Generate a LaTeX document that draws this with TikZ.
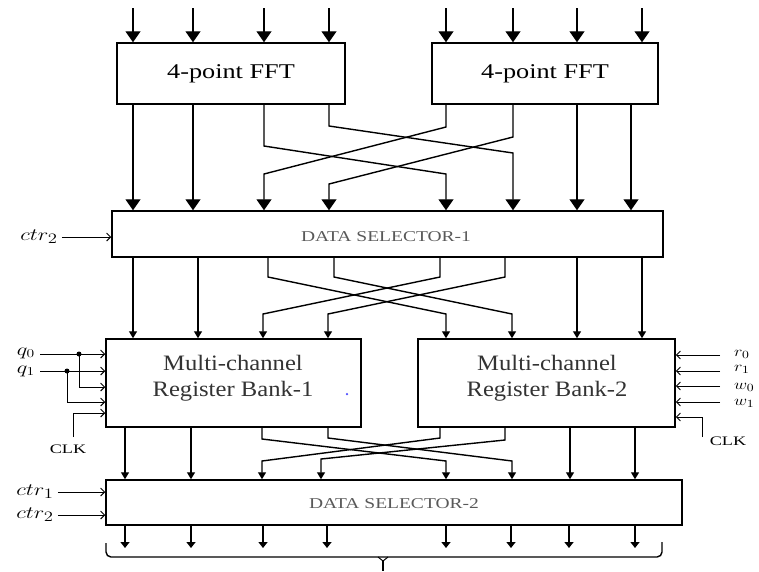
\documentclass[tikz,border=0pt]{standalone}
\usepackage{graphicx}
\usepackage{fontspec}
\setmainfont{Liberation Serif}
\usetikzlibrary{arrows.meta}
\newcommand{\sx}[2]{\scalebox{#1}[1]{#2}}
\begin{document}
\begin{tikzpicture}[x=1pt,y=-1pt,
  box/.style={draw, line width=1.5pt, inner sep=0pt},
  wire/.style={line width=1.4pt},
  bigarr/.style={wire, -{Triangle[width=15pt,length=11pt]}},
  midarr/.style={wire, -{Triangle[width=8pt,length=7pt]}},
  smallarr/.style={wire, -{Triangle[width=9pt,length=6pt]}},
  ctlarr/.style={line width=0.9pt, -{Straight Barb[length=4pt,width=8pt]}},
  jdot/.style={circle, fill, inner sep=0pt, minimum size=5pt},
  fftfont/.style={font=\fontsize{21}{24}\selectfont},
  mcfont/.style={font=\fontsize{22}{26}\selectfont, text=black!80, align=center},
  dsfont/.style={font=\fontsize{15}{18}\selectfont, text=black!65},
  lbl/.style={font=\fontsize{19}{21}\selectfont, inner sep=0pt},
  qlbl/.style={font=\fontsize{18}{19}\selectfont, inner sep=0pt},
  rlbl/.style={font=\fontsize{15}{16}\selectfont, inner sep=0pt, anchor=west},
  clkfont/.style={font=\fontsize{13}{15}\selectfont, inner sep=0pt},
]
\useasboundingbox (0,0) rectangle (759,571);

% boxes
\node[box, minimum width=228, minimum height=61, fftfont] (fft1) at (231,73.5) {\sx{1.25}{4-point FFT}};
\node[box, minimum width=226, minimum height=61, fftfont] (fft2) at (545,73.5) {\sx{1.25}{4-point FFT}};
\node[box, minimum width=551, minimum height=46] (ds1) at (387.5,234) {};
\node[dsfont] (ds1t) at (386,237) {\sx{1.3}{DATA SELECTOR-1}};
\node[box, minimum width=255, minimum height=88] (mc1) at (233.5,383) {};
\node[mcfont] (mc1t) at (233,378) {\sx{1.12}{Multi-channel}\\\sx{1.12}{Register Bank-1}};
\node[box, minimum width=257, minimum height=88] (mc2) at (546.5,383) {};
\node[mcfont] (mc2t) at (547,378) {\sx{1.12}{Multi-channel}\\\sx{1.12}{Register Bank-2}};
\node[box, minimum width=576, minimum height=45] (ds2) at (394,502.5) {};
\node[dsfont] (ds2t) at (394,504) {\sx{1.3}{DATA SELECTOR-2}};
\node[circle, fill=blue!70, inner sep=0pt, minimum size=2.5pt] (bdot) at (347,394) {};

% inputs to FFTs
\foreach \x in {133,193,264,329} \draw[bigarr] (\x,8) -- (\x,0 |- fft1.north);
\foreach \x in {446,513,577,642} \draw[bigarr] (\x,8) -- (\x,0 |- fft2.north);

% FFT -> DS1
\draw[bigarr] (133,0 |- fft1.south) -- (133,0 |- ds1.north);
\draw[bigarr] (193,0 |- fft1.south) -- (193,0 |- ds1.north);
\draw[bigarr] (264,0 |- fft1.south) -- (264,146) -- (446,174) -- (446,0 |- ds1.north);
\draw[bigarr] (329,0 |- fft1.south) -- (329,126) -- (513,153) -- (513,0 |- ds1.north);
\draw[bigarr] (446,0 |- fft2.south) -- (446,127) -- (264,174) -- (264,0 |- ds1.north);
\draw[bigarr] (513,0 |- fft2.south) -- (513,137) -- (329,184) -- (329,0 |- ds1.north);
\draw[bigarr] (577,0 |- fft2.south) -- (577,0 |- ds1.north);
\draw[bigarr] (631,0 |- fft2.south) -- (631,0 |- ds1.north);

% DS1 -> register banks
\draw[midarr] (133,0 |- ds1.south) -- (133,0 |- mc1.north);
\draw[midarr] (198,0 |- ds1.south) -- (198,0 |- mc1.north);
\draw[midarr] (268,0 |- ds1.south) -- (268,277) -- (446,314) -- (446,0 |- mc2.north);
\draw[midarr] (334,0 |- ds1.south) -- (334,277) -- (512,314) -- (512,0 |- mc2.north);
\draw[midarr] (440,0 |- ds1.south) -- (440,277) -- (263,314) -- (263,0 |- mc1.north);
\draw[midarr] (505,0 |- ds1.south) -- (505,277) -- (328,314) -- (328,0 |- mc1.north);
\draw[midarr] (577,0 |- ds1.south) -- (577,0 |- mc2.north);
\draw[midarr] (642,0 |- ds1.south) -- (642,0 |- mc2.north);

% register banks -> DS2
\draw[midarr] (125,0 |- mc1.south) -- (125,0 |- ds2.north);
\draw[midarr] (191,0 |- mc1.south) -- (191,0 |- ds2.north);
\draw[midarr] (262,0 |- mc1.south) -- (262,439) -- (446,461) -- (446,0 |- ds2.north);
\draw[midarr] (328,0 |- mc1.south) -- (328,438) -- (512,461) -- (512,0 |- ds2.north);
\draw[midarr] (440,0 |- mc2.south) -- (440,438) -- (262,461) -- (262,0 |- ds2.north);
\draw[midarr] (505,0 |- mc2.south) -- (505,440) -- (321,459) -- (321,0 |- ds2.north);
\draw[midarr] (570,0 |- mc2.south) -- (570,0 |- ds2.north);
\draw[midarr] (635,0 |- mc2.south) -- (635,0 |- ds2.north);

% DS2 outputs
\foreach \x in {125,191,263,327,446,511,569,635} \draw[smallarr] (\x,0 |- ds2.south) -- (\x,548);

% brace
\draw[wire, rounded corners=5] (106,543) -- (106,557) -- (662,557) -- (662,542);
\coordinate (bc) at (383,561);
\draw[line width=1pt] (378,557) -- (bc) -- (388,557);
\draw[wire] (bc) -- (383,571);

% control labels, left
\node[lbl] (c2a) at (39,237) {\sx{1.3}{$ctr_2$}};
\draw[ctlarr] ([xshift=4]c2a.east) -- (ds1.west |- c2a.east);
\node[lbl] (c1) at (35,492) {\sx{1.3}{$ctr_1$}};
\draw[ctlarr] ([xshift=4]c1.east) -- (ds2.west |- c1.east);
\node[lbl] (c2b) at (35,515) {\sx{1.3}{$ctr_2$}};
\draw[ctlarr] ([xshift=4]c2b.east) -- (ds2.west |- c2b.east);

\node[qlbl] (q0) at (26,353) {\sx{1.3}{$q_0$}};
\node[qlbl] (q1) at (26,371) {\sx{1.3}{$q_1$}};
\node[jdot] (d0) at (79,354) {};
\node[jdot] (d1) at (67,371) {};
\draw[ctlarr] (40,354) -- (mc1.west |- d0);
\draw[ctlarr] (40,371) -- (mc1.west |- d1);
\draw[ctlarr] (d0.center) -- (79,387) -- (mc1.west |- 0,387);
\draw[ctlarr] (d1.center) -- (67,402) -- (mc1.west |- 0,402);
\node[clkfont] (clk1) at (68,449) {\sx{1.4}{CLK}};
\draw[ctlarr] (73,437) -- (73,413) -- (mc1.west |- 0,413);

% control labels, right
\node[rlbl] (r0) at (734,354) {\sx{1.25}{$r_0$}};
\node[rlbl] (r1) at (734,369.5) {\sx{1.25}{$r_1$}};
\node[rlbl] (w0) at (734,387.5) {\sx{1.25}{$w_0$}};
\node[rlbl] (w1) at (734,403) {\sx{1.25}{$w_1$}};
\draw[ctlarr] (720,355) -- (mc2.east |- 0,355);
\draw[ctlarr] (720,371) -- (mc2.east |- 0,371);
\draw[ctlarr] (720,386) -- (mc2.east |- 0,386);
\draw[ctlarr] (720,402) -- (mc2.east |- 0,402);
\node[clkfont] (clk2) at (728,441) {\sx{1.4}{CLK}};
\draw[ctlarr] (702,437) -- (702,417) -- (mc2.east |- 0,417);
\end{tikzpicture}
\end{document}
